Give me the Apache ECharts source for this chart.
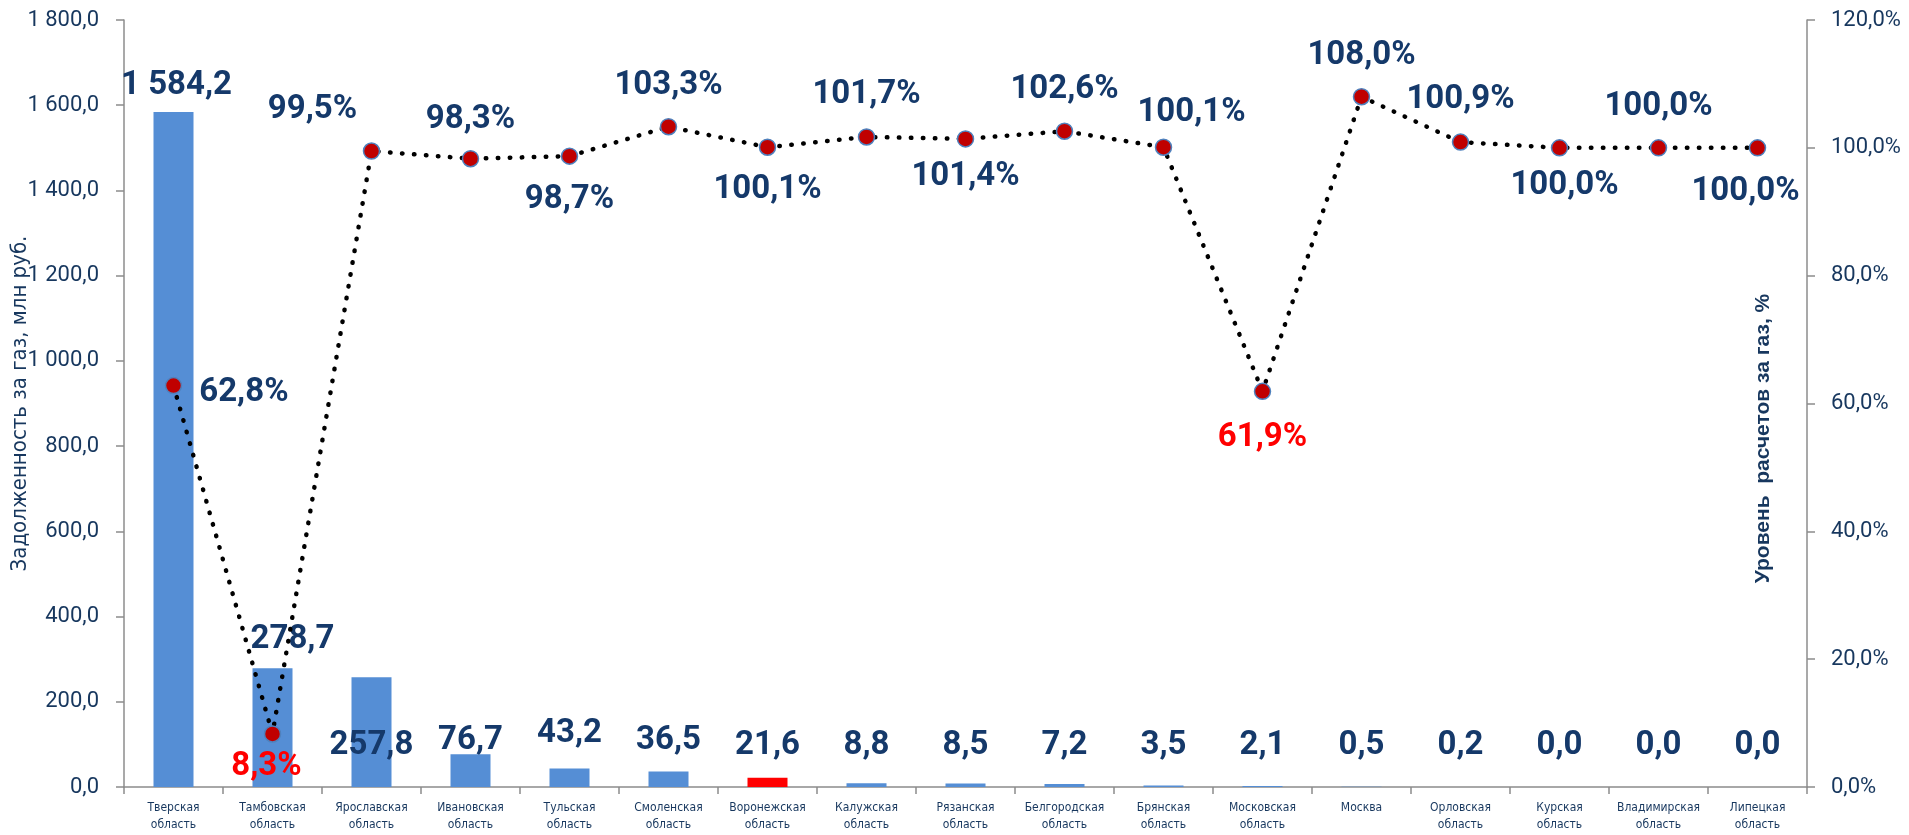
<!DOCTYPE html>
<html>
<head>
<meta charset="utf-8">
<script src="https://cdn.jsdelivr.net/npm/echarts@6/dist/echarts.min.js"></script>
<style>
  html, body { margin: 0; padding: 0; background: #fff; }
  #chart { width: 1909px; height: 835px; }
</style>
</head>
<body>
<div id="chart"></div>
<script>
const regions = [
  'Тверская\nобласть', 'Тамбовская\nобласть', 'Ярославская\nобласть', 'Ивановская\nобласть',
  'Тульская\nобласть', 'Смоленская\nобласть', 'Воронежская\nобласть', 'Калужская\nобласть',
  'Рязанская\nобласть', 'Белгородская\nобласть', 'Брянская\nобласть', 'Московская\nобласть',
  'Москва', 'Орловская\nобласть', 'Курская\nобласть', 'Владимирская\nобласть', 'Липецкая\nобласть'
]
const debt = [1584.2, 278.7, 257.8, 76.7, 43.2, 36.5, 21.6, 8.8, 8.5, 7.2, 3.5, 2.1, 0.5, 0.2, 0.0, 0.0, 0.0]
const payLevel = [62.8, 8.3, 99.5, 98.3, 98.7, 103.3, 100.1, 101.7, 101.4, 102.6, 100.1, 61.9, 108.0, 100.9, 100.0, 100.0, 100.0]
const leftTicks = [0, 1800, 200]
const rightTicks = [0, 120, 20]

const NAVY = '#17375E'
const LABEL_NAVY = '#15396A'
const RED = '#FF0000'
const AXIS_GRAY = '#8C8C8C'
const BOLD_FONT = "Roboto, 'Liberation Sans', sans-serif"
const NARROW = "'DejaVu Sans Condensed', 'Liberation Sans', sans-serif"

const fmt = (v) => {
  const parts = v.toFixed(1).split('.')
  return parts[0].replace(/\B(?=(\d{3})+(?!\d))/g, ' ') + ',' + parts[1]
}

// bar labels: where each sits
const barLabelCfg = (i) => {
  if (i === 0) return { position: 'top', distance: 10, offset: [3, 0] }
  if (i === 1) return { position: 'top', distance: 12, offset: [20, 0] }
  if (i === 3 || i === 5) return { position: 'insideBottom', distance: 30 }
  if (i === 4) return { position: 'insideBottom', distance: 37 }
  return { position: 'insideBottom', distance: 25 }
}

// line labels: above / below / beside the point
const lineLabelCfg = [
  { position: 'right', distance: 17, offset: [0, 7] },
  { position: 'bottom', distance: 8, offset: [-6, 0], color: RED },
  { position: 'top', distance: 16, offset: [-59, 0] },
  { position: 'top', distance: 14 },
  { position: 'bottom', distance: 18 },
  { position: 'top', distance: 16 },
  { position: 'bottom', distance: 17 },
  { position: 'top', distance: 17 },
  { position: 'bottom', distance: 13 },
  { position: 'top', distance: 16 },
  { position: 'top', distance: 9, offset: [28, 0] },
  { position: 'bottom', distance: 21, color: RED },
  { position: 'top', distance: 16 },
  { position: 'top', distance: 17 },
  { position: 'bottom', distance: 13, offset: [5, 0] },
  { position: 'top', distance: 16 },
  { position: 'bottom', distance: 19, offset: [-12, 0] }
]

const chart = echarts.init(document.getElementById('chart'))

const option = {
  animation: false,
  grid: { left: 124, right: 102, top: 20, bottom: 48, containLabel: false, outerBoundsMode: 'none' },
  xAxis: {
    type: 'category',
    data: regions,
    axisLine: { lineStyle: { color: AXIS_GRAY, width: 1.5 } },
    axisTick: { show: true, length: 7, lineStyle: { color: AXIS_GRAY, width: 1.5 } },
    axisLabel: {
      interval: 0,
      margin: 12,
      color: NAVY,
      fontFamily: NARROW,
      fontSize: 12,
      lineHeight: 17
    }
  },
  yAxis: [
    {
      type: 'value',
      min: leftTicks[0],
      max: leftTicks[1],
      interval: leftTicks[2],
      position: 'left',
      name: 'Задолженность за газ, млн руб.',
      nameLocation: 'middle',
      nameGap: 93,
      nameRotate: 90,
      nameMoveOverlap: false,
      nameTextStyle: { color: NAVY, fontFamily: NARROW, fontSize: 22 },
      axisLine: { show: true, lineStyle: { color: AXIS_GRAY, width: 1.5 } },
      axisTick: { show: true, length: 8, lineStyle: { color: AXIS_GRAY, width: 1.5 } },
      axisLabel: { color: NAVY, fontFamily: 'Roboto, sans-serif', fontSize: 22, margin: 25, formatter: (v) => fmt(v) },
      splitLine: { show: false }
    },
    {
      type: 'value',
      min: rightTicks[0],
      max: rightTicks[1],
      interval: rightTicks[2],
      position: 'right',
      name: 'Уровень  расчетов за газ, %',
      nameLocation: 'middle',
      nameGap: -54,
      nameRotate: 90,
      nameMoveOverlap: false,
      nameTextStyle: { color: NAVY, fontFamily: "'Liberation Sans', Arial, sans-serif", fontWeight: 'bold', fontSize: 21, padding: [0, 70, 0, 0] },
      axisLine: { show: true, lineStyle: { color: AXIS_GRAY, width: 1.5 } },
      axisTick: { show: true, length: 8, lineStyle: { color: AXIS_GRAY, width: 1.5 } },
      axisLabel: { color: NAVY, fontFamily: 'Roboto, sans-serif', fontSize: 22, margin: 24, formatter: (v) => fmt(v) + '%' },
      splitLine: { show: false }
    }
  ],
  series: [
    {
      name: 'Задолженность',
      type: 'bar',
      yAxisIndex: 0,
      barWidth: 40,
      data: debt.map((v, i) => ({
        value: v,
        itemStyle: { color: regions[i].startsWith('Воронежская') ? RED : '#558ED5' },
        label: barLabelCfg(i)
      })),
      label: {
        show: true,
        color: LABEL_NAVY,
        fontFamily: BOLD_FONT,
        fontWeight: 'bold',
        fontSize: 33,
        formatter: (p) => fmt(p.value)
      },
      z: 1
    },
    {
      name: 'Уровень расчетов',
      type: 'line',
      yAxisIndex: 1,
      data: payLevel.map((v, i) => ({ value: v, label: lineLabelCfg[i] })),
      symbol: 'circle',
      symbolSize: 16,
      itemStyle: { color: '#C00000', borderColor: '#4F81BD', borderWidth: 1.5 },
      lineStyle: { color: '#000', width: 4.5, type: [0.5, 11.5], cap: 'round' },
      label: {
        show: true,
        color: LABEL_NAVY,
        fontFamily: BOLD_FONT,
        fontWeight: 'bold',
        fontSize: 33,
        formatter: (p) => fmt(p.value) + '%'
      },
      z: 3
    }
  ]
}

chart.setOption(option)
window.addEventListener('resize', () => chart.resize())
</script>
</body>
</html>
